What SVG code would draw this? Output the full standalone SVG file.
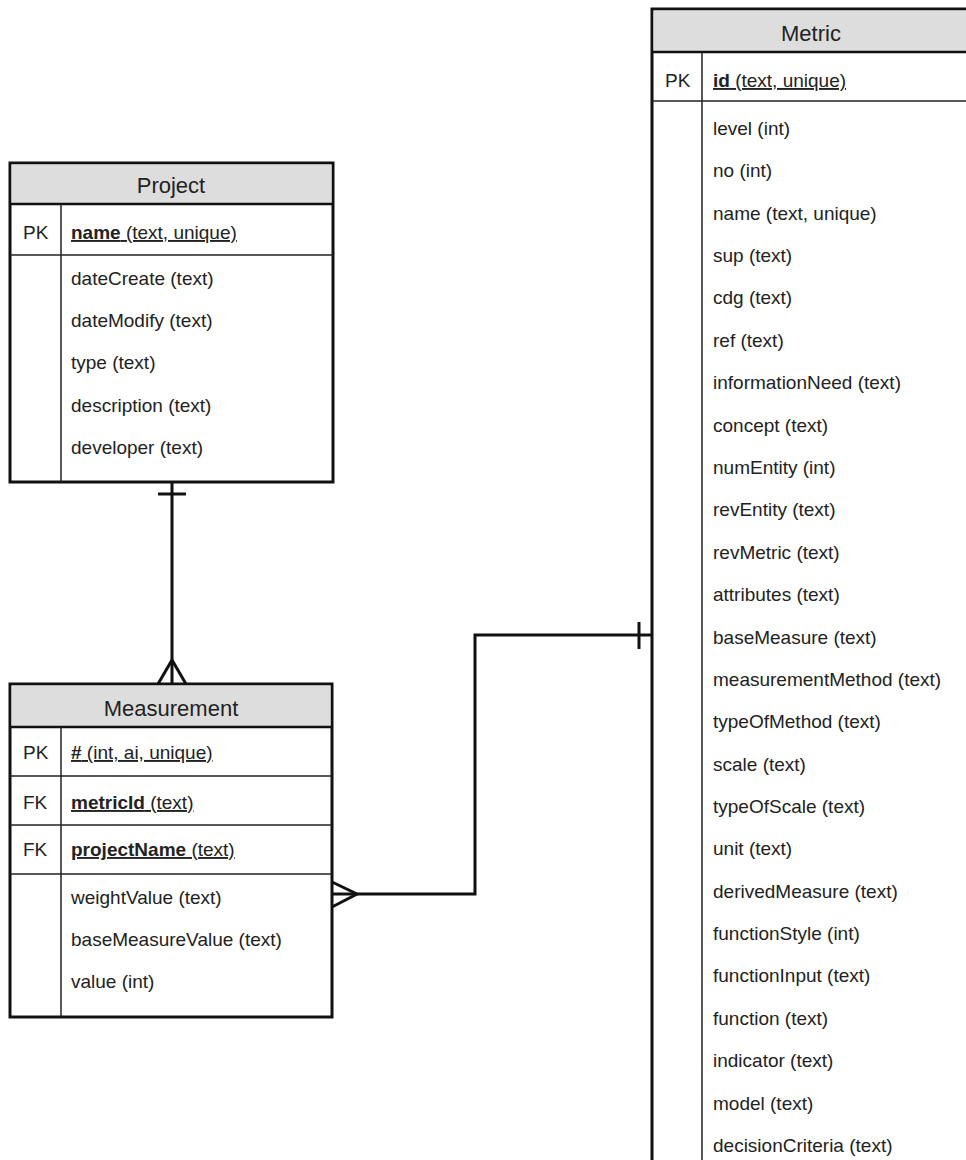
<svg xmlns="http://www.w3.org/2000/svg" width="966" height="1160" viewBox="0 0 966 1160">
<style>
.box{fill:#ffffff;stroke:#111;stroke-width:3}
.hdr{fill:#dddddd;stroke:none}
.thick{stroke:#111;stroke-width:2.5}
.thin{stroke:#222;stroke-width:1.5}
.title{font-family:"Liberation Sans",Arial,sans-serif;font-size:22px;fill:#222;text-anchor:middle}
.t{font-family:"Liberation Sans",Arial,sans-serif;font-size:19px;fill:#222}
.u{text-decoration:underline}
.b{font-weight:bold}
.conn{fill:none;stroke:#111;stroke-width:3}
</style>
<rect width="966" height="1160" fill="#ffffff"/>

<g id="project">
<rect class="box" x="10" y="163" width="323" height="319"/>
<rect class="hdr" x="11.5" y="164.5" width="320" height="39"/>
<line class="thick" x1="10" y1="204" x2="333" y2="204"/>
<line class="thin" x1="10" y1="255" x2="333" y2="255"/>
<line class="thin" x1="61" y1="204" x2="61" y2="482"/>
<text class="title" x="171" y="193">Project</text>
<text class="t" x="23" y="239">PK</text>
<text class="t u" x="71" y="239"><tspan class="b">name</tspan> (text, unique)</text>
<text class="t" x="71" y="285">dateCreate (text)</text>
<text class="t" x="71" y="327">dateModify (text)</text>
<text class="t" x="71" y="369">type (text)</text>
<text class="t" x="71" y="412">description (text)</text>
<text class="t" x="71" y="454">developer (text)</text>
</g>

<g id="measurement">
<rect class="box" x="10" y="684" width="322" height="333"/>
<rect class="hdr" x="11.5" y="685.5" width="319" height="41"/>
<line class="thick" x1="10" y1="727" x2="332" y2="727"/>
<line class="thin" x1="10" y1="776" x2="332" y2="776"/>
<line class="thin" x1="10" y1="825" x2="332" y2="825"/>
<line class="thin" x1="10" y1="874" x2="332" y2="874"/>
<line class="thin" x1="61" y1="727" x2="61" y2="1017"/>
<text class="title" x="171" y="716">Measurement</text>
<text class="t" x="23" y="759">PK</text>
<text class="t u" x="71" y="759"><tspan class="b">#</tspan> (int, ai, unique)</text>
<text class="t" x="23" y="809">FK</text>
<text class="t u" x="71" y="809"><tspan class="b">metricId</tspan> (text)</text>
<text class="t" x="23" y="856">FK</text>
<text class="t u" x="71" y="856"><tspan class="b">projectName</tspan> (text)</text>
<text class="t" x="71" y="904">weightValue (text)</text>
<text class="t" x="71" y="946">baseMeasureValue (text)</text>
<text class="t" x="71" y="988">value (int)</text>
</g>

<g id="metric">
<rect class="box" x="652" y="9" width="320" height="1160"/>
<rect class="hdr" x="653.5" y="10.5" width="317" height="41"/>
<line class="thick" x1="652" y1="52" x2="972" y2="52"/>
<line class="thin" x1="652" y1="101" x2="972" y2="101"/>
<line class="thin" x1="702" y1="52" x2="702" y2="1160"/>
<text class="title" x="811" y="41">Metric</text>
<text class="t" x="665" y="87">PK</text>
<text class="t u" x="713" y="87"><tspan class="b">id</tspan> (text, unique)</text>
<text class="t" x="713" y="135">level (int)</text>
<text class="t" x="713" y="177">no (int)</text>
<text class="t" x="713" y="220">name (text, unique)</text>
<text class="t" x="713" y="262">sup (text)</text>
<text class="t" x="713" y="304">cdg (text)</text>
<text class="t" x="713" y="347">ref (text)</text>
<text class="t" x="713" y="389">informationNeed (text)</text>
<text class="t" x="713" y="432">concept (text)</text>
<text class="t" x="713" y="474">numEntity (int)</text>
<text class="t" x="713" y="516">revEntity (text)</text>
<text class="t" x="713" y="559">revMetric (text)</text>
<text class="t" x="713" y="601">attributes (text)</text>
<text class="t" x="713" y="644">baseMeasure (text)</text>
<text class="t" x="713" y="686">measurementMethod (text)</text>
<text class="t" x="713" y="728">typeOfMethod (text)</text>
<text class="t" x="713" y="771">scale (text)</text>
<text class="t" x="713" y="813">typeOfScale (text)</text>
<text class="t" x="713" y="855">unit (text)</text>
<text class="t" x="713" y="898">derivedMeasure (text)</text>
<text class="t" x="713" y="940">functionStyle (int)</text>
<text class="t" x="713" y="982">functionInput (text)</text>
<text class="t" x="713" y="1025">function (text)</text>
<text class="t" x="713" y="1067">indicator (text)</text>
<text class="t" x="713" y="1110">model (text)</text>
<text class="t" x="713" y="1152">decisionCriteria (text)</text>
</g>

<g id="connectors">
<path class="conn" d="M172 482 V684"/>
<path class="conn" d="M158 494 H186"/>
<path class="conn" d="M158 684 L172 660 L186 684"/>
<path class="conn" d="M332 894 H475 V635 H652"/>
<path class="conn" d="M332 882 L357 894 L332 907"/>
<path class="conn" d="M639 622 V649"/>
</g>
</svg>
